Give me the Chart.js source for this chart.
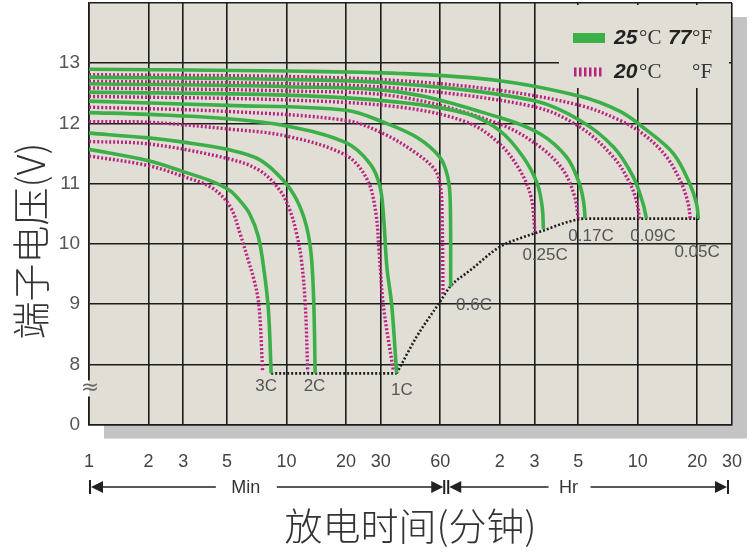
<!DOCTYPE html>
<html>
<head>
<meta charset="utf-8">
<script src="https://cdn.jsdelivr.net/npm/chart.js@4/dist/chart.umd.min.js"></script>
<style>
  html, body { margin: 0; padding: 0; background: #fff; }
  #wrap { width: 753px; height: 553px; position: relative; }
</style>
</head>
<body>
<div id="wrap"><canvas id="chart"></canvas></div>
<script>
// x = discharge time in minutes (log axis), y = terminal voltage in volts
// the axis runs 7..14, the bottom line stands for 0 (broken axis)
const xTicks = [1, 2, 3, 5, 10, 20, 30, 60, 120, 180, 300, 600, 1200, 1800];
const xTickLabels = ['1', '2', '3', '5', '10', '20', '30', '60', '2', '3', '5', '10', '20', '30'];
const yTicks = [7, 8, 9, 10, 11, 12, 13, 14];
const yTickLabels = ['0', '8', '9', '10', '11', '12', '13', ''];

const rates = ['3C', '2C', '1C', '0.6C', '0.25C', '0.17C', '0.09C', '0.05C'];

// 25°C curves, [minutes, volts]
const c3C_25 = [[1, 11.57], [2, 11.38], [3, 11.2], [4.25, 11.03], [5.2, 10.88], [5.8, 10.72], [6.5, 10.5], [7.2, 10.12], [7.7, 9.55], [8.1, 8.9], [8.36, 7.85]];
const c2C_25 = [[1, 11.84], [2, 11.76], [3, 11.69], [5, 11.57], [7.3, 11.4], [9.6, 11.06], [11.3, 10.72], [12.6, 10.3], [13.35, 9.8], [13.75, 8.98], [13.96, 7.85]];
const c1C_25 = [[1, 12.18], [2, 12.15], [5, 12.08], [10, 11.96], [20, 11.68], [26.5, 11.33], [29.7, 10.96], [31, 10.45], [32.2, 9.62], [34.1, 8.98], [36.1, 7.85]];
const c06C_25 = [[1, 12.37], [5, 12.3], [20, 12.22], [31, 12.02], [45.6, 11.77], [59.7, 11.44], [65.5, 11.11], [67.4, 10.72], [67.8, 9.29]];
const c025C_25 = [[1, 12.52], [10, 12.47], [37.6, 12.35], [82, 12.16], [120, 11.88], [158, 11.44], [186, 11.0], [197, 10.61], [199.7, 10.25]];
const c017C_25 = [[1, 12.66], [10, 12.61], [37.6, 12.52], [120, 12.1], [192, 11.83], [262, 11.44], [304, 11.0], [320, 10.67], [324.6, 10.42]];
const c009C_25 = [[1, 12.77], [10, 12.73], [37.6, 12.66], [178, 12.38], [306, 12.05], [452, 11.61], [570, 11.11], [638, 10.67], [664, 10.42]];
const c005C_25 = [[1, 12.9], [10, 12.87], [37.6, 12.83], [120, 12.71], [306, 12.45], [488, 12.2], [653, 11.91], [909, 11.5], [1100, 11.0], [1190, 10.67], [1217, 10.42]];

// 20°C curves, [minutes, volts]
const c3C_20 = [[1, 11.46], [2, 11.3], [3, 11.12], [4.2, 10.93], [5.18, 10.62], [5.82, 10.17], [6.4, 9.73], [6.85, 9.4], [7.25, 8.98], [7.57, 7.88]];
const c2C_20 = [[1, 11.7], [2, 11.66], [5, 11.42], [7.3, 11.22], [9.25, 10.89], [10.4, 10.56], [11.25, 10.17], [11.9, 9.73], [12.45, 8.98], [12.8, 7.88]];
const c1C_20 = [[1, 12.03], [2, 12.02], [5, 11.91], [10, 11.79], [20, 11.47], [25.5, 11.08], [28.2, 10.56], [29.4, 9.89], [30.9, 8.98], [34.8, 7.88]];
const c06C_20 = [[1, 12.27], [5, 12.2], [20, 12.05], [31, 11.83], [45.6, 11.5], [56.7, 11.22], [60.2, 10.94], [61.3, 10.5], [62, 9.15]];
const c025C_20 = [[1, 12.45], [10, 12.39], [37.6, 12.27], [82, 12.02], [120, 11.66], [152, 11.22], [173, 10.78], [181, 10.2]];
const c017C_20 = [[1, 12.59], [10, 12.54], [37.6, 12.44], [120, 11.99], [192, 11.61], [252, 11.22], [288, 10.78], [300, 10.42]];
const c009C_20 = [[1, 12.7], [10, 12.66], [37.6, 12.58], [178, 12.28], [306, 11.94], [452, 11.44], [549, 11.0], [595, 10.67], [611, 10.42]];
const c005C_20 = [[1, 12.81], [10, 12.78], [37.6, 12.71], [120, 12.55], [306, 12.3], [488, 12.05], [653, 11.8], [841, 11.44], [1000, 11.0], [1080, 10.67], [1106, 10.42]];

// end-of-discharge line
const cutoffFlat = [[8.36, 7.85], [36.1, 7.85]];
const cutoffRise = [[36.1, 7.85], [45.6, 8.46], [59.9, 9.04], [67.3, 9.29], [85, 9.56], [120, 9.95], [157, 10.11], [199, 10.22], [263, 10.36], [324, 10.42], [1240, 10.42]];

// where each rate name is written, [minutes, volts]
const rateLabelAt = [[7.88, 7.64], [13.86, 7.64], [38.4, 7.57], [89, 8.98], [203.7, 9.81], [348, 10.12], [717, 10.12], [1198, 9.86]];

const GREEN = '#3caf48';
const MAGENTA = '#b8237f';
const GRID = '#1c1c1c';
const PANEL = '#e1ded6';
const SHADOW = '#c4c4c4';

const toPts = arr => arr.map(p => ({ x: p[0], y: p[1] }));

const curves25 = [c3C_25, c2C_25, c1C_25, c06C_25, c025C_25, c017C_25, c009C_25, c005C_25];
const curves20 = [c3C_20, c2C_20, c1C_20, c06C_20, c025C_20, c017C_20, c009C_20, c005C_20];

const datasets = [];
curves25.forEach(function(c, i) {
  datasets.push({
    label: rates[i] + ' 25°C', data: toPts(c),
    borderColor: GREEN, borderWidth: 3.6, pointRadius: 0,
    tension: 0.35, fill: false
  });
});
curves20.forEach(function(c, i) {
  datasets.push({
    label: rates[i] + ' 20°C', data: toPts(c),
    borderColor: MAGENTA, borderWidth: 3.4, borderDash: [2, 2], pointRadius: 0,
    tension: 0.35, fill: false
  });
});
[cutoffFlat, cutoffRise].forEach(function(c) {
  datasets.push({
    label: 'cutoff', data: toPts(c),
    borderColor: '#1e1e1e', borderWidth: 2.6, borderDash: [2, 2], pointRadius: 0,
    cubicInterpolationMode: 'monotone', fill: false
  });
});

// panel, shadow, legend box, labels and the time-unit row under the axis
const decor = {
  id: 'decor',
  beforeDraw(chart) {
    const { ctx, chartArea: a } = chart;
    ctx.save();
    ctx.fillStyle = SHADOW;
    ctx.fillRect(a.left + 15, a.top + 14, a.right - a.left, a.bottom - a.top);
    ctx.fillStyle = PANEL;
    ctx.fillRect(a.left, a.top, a.right - a.left, a.bottom - a.top);
    ctx.restore();
  },
  beforeDatasetsDraw(chart) {
    const { ctx, chartArea: a } = chart;
    ctx.save();
    // legend panel covers the grid behind it
    ctx.fillStyle = PANEL;
    ctx.fillRect(a.right - 173, a.top + 2, 170, 83);
    // axis break
    const yb = chart.scales.y.getPixelForValue(7.6);
    ctx.fillStyle = '#fff';
    ctx.fillRect(a.left - 3, yb - 8, 3, 16);
    ctx.fillStyle = PANEL;
    ctx.fillRect(a.left, yb - 8, 3, 16);
    ctx.restore();
  },
  afterDatasetsDraw(chart) {
    const { ctx, chartArea: a } = chart;
    const xs = chart.scales.x, ys = chart.scales.y;
    ctx.save();
    ctx.textAlign = 'center';
    ctx.textBaseline = 'middle';
    ctx.fillStyle = '#555';
    ctx.font = '17px "Liberation Sans", Arial, sans-serif';
    rates.forEach(function(r, i) {
      const p = rateLabelAt[i];
      ctx.fillText(r, xs.getPixelForValue(p[0]), ys.getPixelForValue(p[1]));
    });

    // ≈ on the broken axis
    ctx.fillStyle = '#666';
    ctx.font = '22px "DejaVu Sans", sans-serif';
    ctx.fillText('≈', a.left + 1, ys.getPixelForValue(7.6));

    // legend
    const r0 = a.right;
    const y1 = a.top + 35, y2 = a.top + 69;
    ctx.fillStyle = GREEN;
    ctx.fillRect(r0 - 159, y1 - 5, 32, 10);
    ctx.fillStyle = MAGENTA;
    for (let i = 0; i < 6; i++) ctx.fillRect(r0 - 158 + i * 5, y2 - 4.5, 2.5, 9);
    ctx.textAlign = 'left';
    ctx.fillStyle = '#222';
    ctx.font = 'italic bold 21px "Liberation Sans", Arial, sans-serif';
    ctx.fillText('25', r0 - 118, y1);
    ctx.fillText('77', r0 - 64, y1);
    ctx.fillText('20', r0 - 118, y2);
    ctx.fillStyle = '#333';
    ctx.font = '21px "Liberation Serif", serif';
    ctx.fillText('°C', r0 - 93, y1);
    ctx.fillText('°F', r0 - 40, y1);
    ctx.fillText('°C', r0 - 93, y2);
    ctx.fillText('°F', r0 - 40, y2);

    // vertical axis title
    ctx.save();
    ctx.translate(31, 241);
    ctx.rotate(-Math.PI / 2);
    ctx.textAlign = 'center';
    ctx.fillStyle = '#333';
    ctx.font = '300 38px "Noto Sans CJK SC", sans-serif';
    ctx.fillText('端子电压(V)', 0, 0);
    ctx.restore();
    ctx.restore();
  },
  afterDraw(chart) {
    const { ctx } = chart;
    const xs = chart.scales.x;
    const x0 = xs.getPixelForValue(1) + 1;
    const xj = xs.getPixelForValue(60) + 4;
    const x1 = xs.getPixelForValue(1800) - 4;
    const y = 487;
    ctx.save();
    ctx.strokeStyle = '#222';
    ctx.fillStyle = '#222';
    ctx.lineWidth = 1.3;
    function bar(x) {
      ctx.beginPath(); ctx.moveTo(x, y - 7); ctx.lineTo(x, y + 7); ctx.lineWidth = 2; ctx.stroke(); ctx.lineWidth = 1.3;
    }
    function head(x, dir) {
      ctx.beginPath(); ctx.moveTo(x, y); ctx.lineTo(x - dir * 12, y - 6); ctx.lineTo(x - dir * 12, y + 6); ctx.closePath(); ctx.fill();
    }
    function seg(a, b) {
      ctx.beginPath(); ctx.moveTo(a, y); ctx.lineTo(b, y); ctx.stroke();
    }
    ctx.font = '18px "Liberation Sans", Arial, sans-serif';
    ctx.textAlign = 'center';
    ctx.textBaseline = 'middle';
    // minutes
    const mMid = x0 + 0.44 * (xj - x0);
    bar(x0); head(x0 + 1, -1); seg(x0 + 10, mMid - 30);
    seg(mMid + 31, xj - 10); head(xj - 1, 1); bar(xj);
    ctx.fillStyle = '#333';
    ctx.fillText('Min', mMid, y + 1);
    ctx.fillStyle = '#222';
    // hours
    const h0 = xj + 4;
    const hMid = h0 + 0.43 * (x1 - h0);
    bar(h0); head(h0 + 1, -1); seg(h0 + 10, hMid - 20);
    seg(hMid + 22, x1 - 10); head(x1 - 1, 1); bar(x1);
    ctx.fillStyle = '#333';
    ctx.fillText('Hr', hMid, y + 1);
    ctx.restore();
  }
};

new Chart(document.getElementById('chart'), {
  type: 'line',
  data: { datasets: datasets },
  plugins: [decor],
  options: {
    responsive: true,
    maintainAspectRatio: false,
    animation: false,
    events: [],
    layout: { padding: { left: 0, right: 21, top: 3, bottom: 0 } },
    plugins: { legend: { display: false }, tooltip: { enabled: false } },
    scales: {
      x: {
        type: 'logarithmic', min: 1, max: 1800,
        afterBuildTicks: s => { s.ticks = xTicks.map(v => ({ value: v })); },
        afterFit: s => { s.height = 128.4; s.paddingLeft = 0; s.paddingRight = 0; },
        grid: { color: GRID, lineWidth: 1.6, drawTicks: false },
        border: { color: GRID, width: 1.6 },
        ticks: {
          autoSkip: false, maxRotation: 0, padding: 27, color: '#444',
          font: { family: '"Liberation Sans", Arial, sans-serif', size: 18 },
          callback: (v, i) => xTickLabels[i]
        },
        title: {
          display: true, text: '放电时间(分钟)', color: '#333',
          font: { family: '"Noto Sans CJK SC", sans-serif', size: 38, weight: 300 },
          padding: { top: 0, bottom: 5 }
        }
      },
      y: {
        type: 'linear', min: 7, max: 14,
        afterBuildTicks: s => { s.ticks = yTicks.map(v => ({ value: v })); },
        afterFit: s => { s.width = 89; s.paddingTop = 0; s.paddingBottom = 0; },
        grid: { color: GRID, lineWidth: 1.6, drawTicks: false },
        border: { color: GRID, width: 1.6 },
        ticks: {
          padding: 9, color: '#555',
          font: { family: '"Liberation Sans", Arial, sans-serif', size: 19 },
          callback: (v, i) => yTickLabels[i]
        },
        title: { display: false }
      }
    }
  }
});
</script>
</body>
</html>
